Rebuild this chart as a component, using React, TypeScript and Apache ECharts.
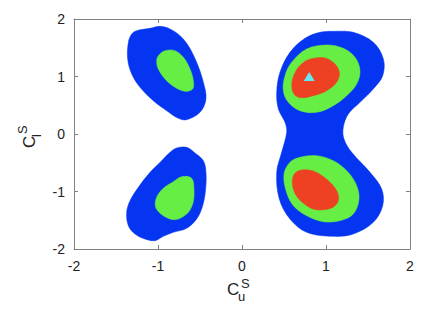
import React, { useEffect, useRef } from "react";
import * as echarts from "echarts";

// Axis ticks
const xTicks = [-2, -1, 0, 1, 2];
const yTicks = [-2, -1, 0, 1, 2];

// Region outlines in data coordinates (C_u^S, C_l^S)
const blueUpperLeft = [
  [-1.254, 1.797], [-1.095, 1.838], [-0.976, 1.872], [-0.857, 1.826], [-0.738, 1.71],
  [-0.639, 1.536], [-0.54, 1.246], [-0.46, 0.899], [-0.429, 0.609], [-0.5, 0.377],
  [-0.659, 0.249], [-0.758, 0.272], [-0.897, 0.406], [-1.056, 0.58], [-1.214, 0.812],
  [-1.313, 1.043], [-1.361, 1.304], [-1.353, 1.594], [-1.313, 1.739],
];
const greenUpperLeft = [
  [-0.996, 1.362], [-0.917, 1.449], [-0.798, 1.449], [-0.698, 1.333], [-0.619, 1.13],
  [-0.579, 0.928], [-0.587, 0.783], [-0.679, 0.742], [-0.798, 0.812], [-0.917, 0.957],
  [-0.996, 1.13], [-1.016, 1.258],
];
const blueLowerLeft = [
  [-0.778, -0.243], [-0.659, -0.232], [-0.56, -0.33], [-0.46, -0.464], [-0.429, -0.667],
  [-0.433, -0.957], [-0.468, -1.246], [-0.54, -1.478], [-0.659, -1.641], [-0.817, -1.71],
  [-0.937, -1.78], [-1.036, -1.855], [-1.155, -1.826], [-1.274, -1.739], [-1.353, -1.594],
  [-1.373, -1.362], [-1.333, -1.159], [-1.234, -0.928], [-1.095, -0.667], [-0.956, -0.464],
  [-0.857, -0.319],
];
const greenLowerLeft = [
  [-0.718, -0.742], [-0.599, -0.771], [-0.571, -0.986], [-0.587, -1.217], [-0.659, -1.391],
  [-0.798, -1.49], [-0.937, -1.42], [-1.028, -1.275], [-1.016, -1.101], [-0.937, -0.945],
  [-0.817, -0.829],
];
const blueRight = [
  [0.929, 1.768], [1.087, 1.786], [1.325, 1.768], [1.563, 1.594], [1.683, 1.304],
  [1.675, 1.014], [1.563, 0.783], [1.405, 0.551], [1.266, 0.348], [1.206, 0.116],
  [1.214, -0.087], [1.306, -0.319], [1.524, -0.667], [1.663, -0.957], [1.675, -1.246],
  [1.563, -1.536], [1.325, -1.739], [1.087, -1.78], [0.77, -1.71], [0.571, -1.478],
  [0.444, -1.13], [0.413, -0.667], [0.472, -0.319], [0.532, 0.029], [0.512, 0.203],
  [0.433, 0.435], [0.413, 0.725], [0.452, 1.072], [0.571, 1.42], [0.75, 1.664],
];
const greenUpperRight = [
  [0.77, 1.478], [1.008, 1.548], [1.206, 1.49], [1.345, 1.333], [1.405, 1.101],
  [1.365, 0.87], [1.246, 0.667], [1.087, 0.493], [0.889, 0.377], [0.69, 0.406],
  [0.552, 0.551], [0.492, 0.754], [0.512, 1.014], [0.591, 1.246],
];
const redUpperRight = [
  [0.79, 1.293], [0.968, 1.328], [1.095, 1.235], [1.159, 1.072], [1.127, 0.899],
  [1.008, 0.754], [0.849, 0.667], [0.69, 0.632], [0.611, 0.713], [0.595, 0.899],
  [0.643, 1.101], [0.71, 1.217],
];
const greenLowerRight = [
  [0.69, -0.406], [0.889, -0.377], [1.087, -0.464], [1.246, -0.638], [1.357, -0.87],
  [1.393, -1.13], [1.325, -1.391], [1.167, -1.507], [0.968, -1.525], [0.77, -1.42],
  [0.611, -1.246], [0.524, -0.986], [0.5, -0.696], [0.571, -0.493],
];
const redLowerRight = [
  [0.71, -0.626], [0.869, -0.655], [1.028, -0.812], [1.127, -0.986], [1.147, -1.159],
  [1.067, -1.287], [0.889, -1.316], [0.77, -1.246], [0.651, -1.084], [0.599, -0.87],
  [0.623, -0.696],
];
const bestPoint = [[0.8, 1.0]];

const BLUE = "#0535f0";
const GREEN = "#66ee44";
const RED = "#ee4022";
const CYAN = "#66e8f2";
const FRAME = "#808080";

const regions: { pts: number[][]; color: string }[] = [
  { pts: blueUpperLeft, color: BLUE },
  { pts: blueLowerLeft, color: BLUE },
  { pts: blueRight, color: BLUE },
  { pts: greenUpperLeft, color: GREEN },
  { pts: greenLowerLeft, color: GREEN },
  { pts: greenUpperRight, color: GREEN },
  { pts: greenLowerRight, color: GREEN },
  { pts: redUpperRight, color: RED },
  { pts: redLowerRight, color: RED },
];

export default function App() {
  const ref = useRef<HTMLDivElement>(null);
  useEffect(() => {
    if (!ref.current) return;
    const chart = echarts.init(ref.current, null, { renderer: "svg" });
    const font = "Liberation Sans, Arial, sans-serif";
    const axisCommon = {
      type: "value" as const,
      min: -2,
      max: 2,
      interval: 1,
      splitLine: { show: false },
      axisLine: { show: true, onZero: false, lineStyle: { color: FRAME, width: 1 } },
      axisTick: { show: true, inside: true, length: 4, lineStyle: { color: FRAME } },
    };
    const option: any = {
      animation: false,
      grid: { left: 74, right: 19, top: 19, bottom: 61, containLabel: false },
      xAxis: [
        {
          ...axisCommon,
          position: "bottom",
          axisLabel: {
            show: true, fontSize: 14, color: "#222", fontFamily: font, margin: 10,
            formatter: (v: number) => (xTicks.includes(v) ? String(v) : ""),
          },
        },
        { ...axisCommon, position: "top", axisLabel: { show: false } },
      ],
      yAxis: [
        {
          ...axisCommon,
          position: "left",
          axisLabel: {
            show: true, fontSize: 14, color: "#222", fontFamily: font, margin: 9,
            formatter: (v: number) => (yTicks.includes(v) ? String(v) : ""),
          },
        },
        { ...axisCommon, position: "right", axisLabel: { show: false } },
      ],
      series: [
        ...regions.map((r) => ({
          type: "custom",
          xAxisIndex: 0,
          yAxisIndex: 0,
          silent: true,
          data: [[r.pts[0][0], r.pts[0][1]]],
          renderItem: (_params: any, api: any) => ({
            type: "polygon",
            shape: { points: r.pts.map((p) => api.coord(p)), smooth: 0.35 },
            style: { fill: r.color, stroke: r.color, lineWidth: 0.5 },
          }),
        })),
        {
          type: "scatter",
          xAxisIndex: 0,
          yAxisIndex: 0,
          symbol: "triangle",
          symbolSize: [11, 9],
          itemStyle: { color: CYAN, opacity: 1 },
          data: bestPoint,
          z: 10,
        },
      ],
      graphic: [
        { type: "text", left: 227, top: 281, style: { text: "C", font: `17px ${font}`, fill: "#222" } },
        { type: "text", left: 238, top: 290, style: { text: "u", font: `13px ${font}`, fill: "#222" } },
        { type: "text", left: 241, top: 277, style: { text: "S", font: `13px ${font}`, fill: "#222" } },
        {
          type: "group",
          x: 35,
          y: 148,
          rotation: Math.PI / 2,
          children: [
            { type: "text", x: 0, y: -14, style: { text: "C", font: `17px ${font}`, fill: "#222" } },
            { type: "text", x: 11, y: -5, style: { text: "l", font: `13px ${font}`, fill: "#222" } },
            { type: "text", x: 14, y: -19, style: { text: "S", font: `13px ${font}`, fill: "#222" } },
          ],
        },
      ],
    };
    chart.setOption(option);
    return () => chart.dispose();
  }, []);
  return (
    <div
      ref={ref}
      style={{ position: "fixed", left: 0, top: 0, width: 429, height: 310, background: "#fff" }}
    />
  );
}
